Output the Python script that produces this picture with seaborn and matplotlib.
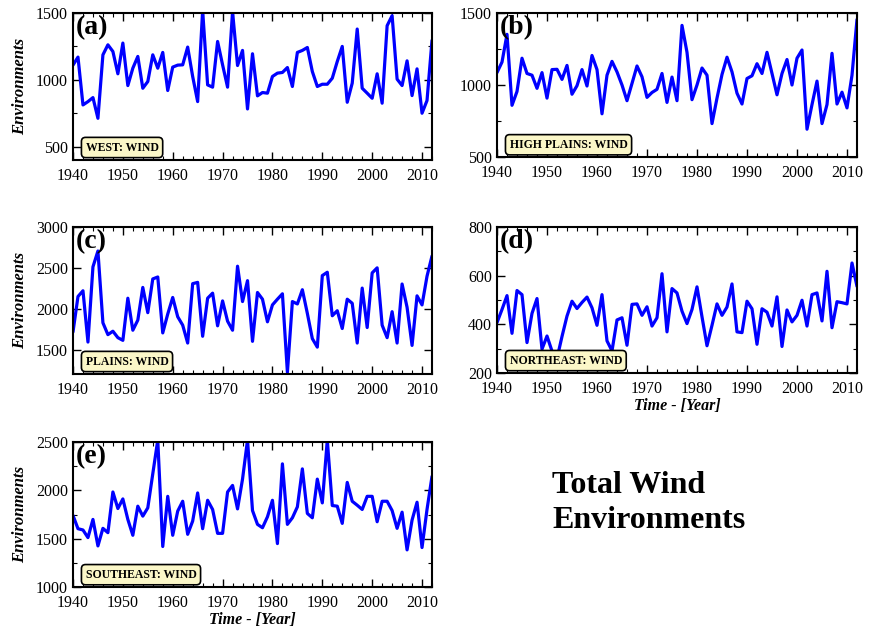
import numpy as np
import pandas as pd
import matplotlib
matplotlib.use("Agg")
import matplotlib.pyplot as plt
from matplotlib.ticker import MultipleLocator
import seaborn as sns

# yearly totals of wind environments, 1940-2012
years = list(range(1940, 2013))

west = [1110, 1170, 812, 837, 867, 712, 1187, 1262, 1212, 1045,
        1275, 957, 1087, 1175, 937, 987, 1187, 1087, 1205, 920,
        1095, 1110, 1112, 1245, 1025, 837, 1520, 962, 945, 1287,
        1112, 945, 1510, 1107, 1220, 782, 1195, 880, 905, 900,
        1025, 1050, 1055, 1092, 950, 1205, 1220, 1242, 1062, 950,
        967, 967, 1012, 1137, 1250, 832, 975, 1380, 937, 900,
        862, 1045, 825, 1405, 1480, 1005, 957, 1142, 882, 1082,
        750, 845, 1295]

high_plains = [1086, 1159, 1352, 859, 955, 1186, 1080, 1068, 977, 1086,
               909, 1107, 1109, 1039, 1136, 936, 995, 1107, 993, 1205,
               1107, 800, 1068, 1164, 1091, 1000, 891, 1011, 1132, 1057,
               914, 948, 970, 1080, 879, 1055, 891, 1414, 1227, 898,
               1000, 1118, 1068, 732, 909, 1073, 1193, 1091, 943, 868,
               1045, 1064, 1148, 1080, 1227, 1080, 932, 1080, 1177, 1000,
               1186, 1243, 693, 864, 1027, 732, 864, 1220, 868, 950,
               841, 1068, 1455]

plains = [1715, 2149, 2219, 1591, 2512, 2706, 1827, 1682, 1724, 1645,
          1612, 2128, 1736, 1860, 2260, 1951, 2364, 2388, 1703, 1934,
          2137, 1901, 1798, 1579, 2306, 2322, 1662, 2128, 2190, 1790,
          2095, 1847, 1736, 2520, 2087, 2343, 1600, 2198, 2116, 1839,
          2046, 2116, 2182, 1220, 2087, 2058, 2232, 1942, 1633, 1529,
          2405, 2446, 1913, 1975, 1757, 2116, 2066, 1579, 2252, 1769,
          2438, 2500, 1798, 1645, 1963, 1579, 2302, 2017, 1550, 2157,
          2046, 2397, 2645]

northeast = [407, 461, 518, 363, 539, 522, 325, 445, 506, 298,
             352, 290, 260, 350, 434, 495, 465, 490, 512, 468,
             396, 522, 332, 291, 418, 427, 314, 482, 484, 437,
             472, 393, 427, 608, 369, 547, 529, 454, 403, 461,
             554, 431, 312, 396, 484, 437, 471, 566, 369, 366,
             495, 464, 318, 464, 450, 393, 513, 309, 459, 410,
             437, 499, 393, 522, 529, 414, 618, 386, 493, 489,
             484, 652, 556]

southeast = [1740, 1603, 1590, 1511, 1699, 1425, 1607, 1562, 1983, 1812,
             1911, 1699, 1535, 1836, 1733, 1819, 2171, 2520, 1419, 1938,
             1535, 1785, 1887, 1545, 1682, 1973, 1603, 1897, 1802, 1555,
             1555, 1983, 2051, 1808, 2116, 2520, 1791, 1648, 1613, 1726,
             1897, 1449, 2274, 1648, 1716, 1829, 2222, 1761, 1716, 2116,
             1870, 2520, 1843, 1836, 1658, 2082, 1887, 1846, 1802, 1938,
             1938, 1675, 1887, 1887, 1791, 1607, 1774, 1384, 1692, 1877,
             1408, 1802, 2144]

panel_letters = ["(a)", "(b)", "(c)", "(d)", "(e)"]
region_names = ["WEST: WIND", "HIGH PLAINS: WIND", "PLAINS: WIND",
                "NORTHEAST: WIND", "SOUTHEAST: WIND"]
series = [west, high_plains, plains, northeast, southeast]

sns.set_style("ticks")
plt.rcParams['font.family'] = ['Liberation Serif', 'DejaVu Serif']
plt.rcParams['text.color'] = 'black'
plt.rcParams['axes.labelcolor'] = 'black'
plt.rcParams['xtick.color'] = 'black'
plt.rcParams['ytick.color'] = 'black'

fig = plt.figure(figsize=(8.77, 6.36), dpi=100)

W, H = 877, 636
# pixel boxes of each panel: left, top, right, bottom
boxes = [(73, 13, 432, 160), (497, 13, 857, 157),
         (73, 227, 432, 374), (497, 227, 857, 373),
         (73, 442, 432, 587)]

ylims = [(400, 1500), (500, 1500), (1200, 3000), (200, 800), (1000, 2500)]
ymajor = [500, 500, 500, 200, 500]
yminor = [250, 250, None, 100, 250]

for k in range(5):
    l, t, r, b = boxes[k]
    ax = fig.add_axes([l / W, 1 - b / H, (r - l) / W, (b - t) / H])
    df = pd.DataFrame({'Year': years, 'Value': series[k]})
    sns.lineplot(data=df, x='Year', y='Value', ax=ax, color='#0000ff',
                 linewidth=2.3)
    ax.set_xlim(1940, 2012)
    ax.set_ylim(*ylims[k])
    ax.xaxis.set_major_locator(MultipleLocator(10))
    ax.xaxis.set_minor_locator(MultipleLocator(2))
    ax.yaxis.set_major_locator(MultipleLocator(ymajor[k]))
    if yminor[k]:
        ax.yaxis.set_minor_locator(MultipleLocator(yminor[k]))
    ax.tick_params(which='both', direction='in', top=True, right=True,
                   labelsize=11.5, color='black', labelcolor='black')
    ax.tick_params(axis='x', pad=5.5)
    ax.tick_params(axis='y', pad=3.5)
    ax.tick_params(which='major', length=6, width=1)
    ax.tick_params(which='minor', length=3, width=0.8)
    for s in ax.spines.values():
        s.set_linewidth(1.5)
        s.set_color('black')
    ax.set_xlabel('')
    ax.set_ylabel('')
    if k in (0, 2, 4):
        ax.set_ylabel('Environments', fontsize=12, fontweight='bold',
                      fontstyle='italic', labelpad=6)
    if k in (3, 4):
        ax.set_xlabel('Time - [Year]', fontsize=11.5, fontweight='bold',
                      fontstyle='italic', labelpad=1)
    ax.text(0.008, 0.985, panel_letters[k], transform=ax.transAxes,
            ha='left', va='top', fontsize=20, fontweight='bold', zorder=5)
    ax.text(0.035, 0.085, region_names[k], transform=ax.transAxes,
            ha='left', va='center', fontsize=8.5, fontweight='bold',
            zorder=6,
            bbox=dict(boxstyle='round,pad=0.35', fc='#fbf7c8', ec='black',
                      lw=1.2))

fig.text(552 / W, 1 - 493 / H, 'Total Wind', fontsize=23,
         fontweight='bold', ha='left', va='baseline')
fig.text(552 / W, 1 - 528 / H, 'Environments', fontsize=23,
         fontweight='bold', ha='left', va='baseline')

fig.savefig('out.png', dpi=100)
